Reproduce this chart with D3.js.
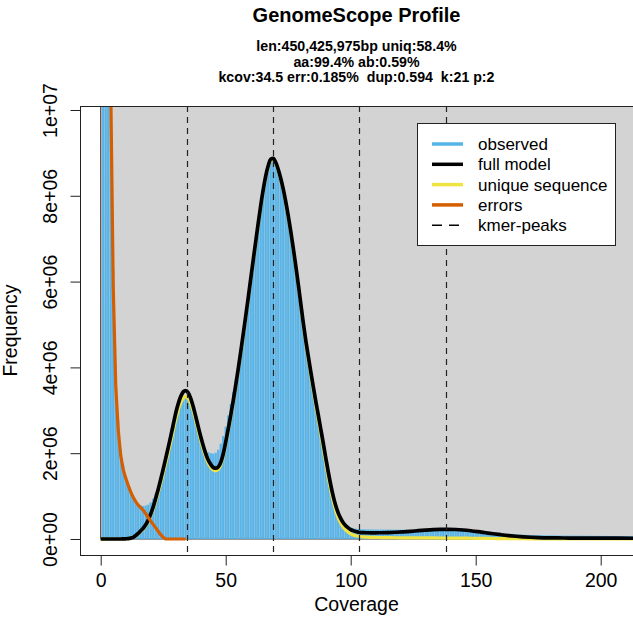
<!DOCTYPE html>
<html>
<head>
<meta charset="utf-8">
<script src="https://d3js.org/d3.v7.min.js"></script>
<style>
  body { margin: 0; background: #fff; }
  text { font-family: "Liberation Sans", Arial, Helvetica, sans-serif; fill: #000; }
</style>
</head>
<body>
<div id="my_dataviz"></div>
<script>

// observed k-mer frequency (millions), coverage 1, 2, 3, ...
var observed = [
  180, 52, 21, 11.2, 6.3, 3.9, 2.75, 2.1, 1.72, 1.46,
  1.27, 1.11, 0.98, 0.88, 0.81, 0.78, 0.77, 0.78, 0.8, 0.85,
  0.94, 1.06, 1.2, 1.38, 1.6, 1.84, 2.08, 2.34, 2.6, 2.84,
  3.04, 3.2, 3.29, 3.31, 3.27, 3.15, 2.98, 2.78, 2.57, 2.37,
  2.2, 2.08, 2.02, 2.0, 1.99, 2.01, 2.08, 2.22, 2.4, 2.62,
  2.88, 3.15, 3.43, 3.72, 4.03, 4.38, 4.76, 5.17, 5.6, 6.04,
  6.48, 6.9, 7.32, 7.72, 8.08, 8.4, 8.64, 8.8, 8.82, 8.74,
  8.6, 8.42, 8.18, 7.9, 7.58, 7.22, 6.82, 6.4, 5.96, 5.5,
  5.06, 4.66, 4.28, 3.92, 3.57, 3.23, 2.9, 2.57, 2.24, 1.92,
  1.61, 1.32, 1.06, 0.84, 0.66, 0.52, 0.42, 0.35, 0.3, 0.27,
  0.25, 0.24, 0.232, 0.228, 0.226, 0.225, 0.224, 0.223, 0.222, 0.222,
  0.221, 0.221, 0.22, 0.22, 0.219, 0.219, 0.218, 0.218, 0.217, 0.217,
  0.216, 0.216, 0.215, 0.215, 0.214, 0.214, 0.213, 0.213, 0.212, 0.212,
  0.211, 0.21, 0.209, 0.208, 0.207, 0.206, 0.205, 0.204, 0.203, 0.202,
  0.2, 0.198, 0.196, 0.194, 0.191, 0.188, 0.185, 0.182, 0.178, 0.174,
  0.17, 0.166, 0.162, 0.158, 0.154, 0.15, 0.146, 0.142, 0.138, 0.134,
  0.13, 0.126, 0.122, 0.118, 0.114, 0.11, 0.107, 0.104, 0.101, 0.098,
  0.096, 0.094, 0.092, 0.09, 0.089, 0.088, 0.087, 0.086, 0.085, 0.084,
  0.083, 0.082, 0.081, 0.08, 0.08, 0.079, 0.079, 0.078, 0.078, 0.077,
  0.077, 0.076, 0.076, 0.075, 0.075, 0.074, 0.074, 0.073, 0.073, 0.072,
  0.072, 0.071, 0.071, 0.07, 0.07, 0.07, 0.069, 0.069, 0.069, 0.068,
  0.068, 0.068, 0.067
];

// coverages where the model curves are given
var modelCov = [
  0, 1, 2, 3, 4, 5, 6, 7, 8, 9,
  10, 11, 12, 13, 14, 15, 16, 17, 18, 19,
  20, 21, 22, 23, 24, 25, 26, 27, 28, 29,
  30, 31, 32, 33, 34, 35, 36, 37, 38, 39,
  40, 41, 42, 43, 44, 45, 46, 47, 48, 49,
  50, 51, 52, 53, 54, 55, 56, 57, 58, 59,
  60, 61, 62, 63, 64, 65, 66, 67, 68, 69,
  70, 71, 72, 73, 74, 75, 76, 77, 78, 79,
  80, 81, 82, 83, 84, 85, 86, 87, 88, 89,
  90, 91, 92, 93, 94, 95, 96, 97, 98, 99,
  100, 101, 102, 103, 104, 105,
  106, 108, 110, 112, 115, 118, 121, 124, 127, 130,
  133, 136, 139, 142, 145, 148, 151, 154, 157, 160,
  163, 166, 169, 172, 175, 180, 185, 190, 200, 213
];

var fullModel = [
  0, 0, 0, 0, 0, 0, 0, 0, 0, 0.002,
  0.005, 0.01, 0.02, 0.04, 0.08, 0.13, 0.19, 0.25, 0.33, 0.44,
  0.58, 0.75, 0.95, 1.16, 1.39, 1.63, 1.88, 2.13, 2.39, 2.66,
  2.93, 3.15, 3.32, 3.43, 3.46, 3.41, 3.28, 3.09, 2.86, 2.62,
  2.39, 2.18, 1.99, 1.84, 1.74, 1.67, 1.65, 1.68, 1.78, 1.98,
  2.26, 2.56, 2.88, 3.22, 3.58, 3.96, 4.36, 4.77, 5.19, 5.62,
  6.06, 6.5, 6.93, 7.36, 7.77, 8.14, 8.46, 8.7, 8.85, 8.87,
  8.78, 8.62, 8.41, 8.16, 7.87, 7.54, 7.18, 6.79, 6.38, 5.95,
  5.5, 5.05, 4.64, 4.27, 3.91, 3.56, 3.22, 2.9, 2.57, 2.24,
  1.9, 1.57, 1.27, 1.0, 0.78, 0.61, 0.48, 0.38, 0.31, 0.26,
  0.22, 0.195, 0.175, 0.16, 0.15, 0.148,
  0.146, 0.145, 0.145, 0.146, 0.15, 0.157, 0.167, 0.179, 0.193, 0.206,
  0.217, 0.224, 0.226, 0.222, 0.21, 0.192, 0.17, 0.146, 0.122, 0.1,
  0.08, 0.064, 0.051, 0.041, 0.034, 0.027, 0.023, 0.021, 0.019, 0.018
];

var uniqueSeq = [
  0, 0, 0, 0, 0, 0, 0, 0, 0, 0.002,
  0.005, 0.01, 0.02, 0.04, 0.07, 0.12, 0.17, 0.23, 0.31, 0.41,
  0.54, 0.7, 0.88, 1.08, 1.3, 1.53, 1.77, 2.01, 2.26, 2.52,
  2.78, 3.0, 3.17, 3.28, 3.32, 3.28, 3.16, 2.98, 2.76, 2.53,
  2.3, 2.09, 1.91, 1.77, 1.67, 1.61, 1.59, 1.62, 1.72, 1.93,
  2.21, 2.51, 2.83, 3.17, 3.53, 3.91, 4.31, 4.72, 5.16, 5.59,
  6.03, 6.47, 6.9, 7.33, 7.74, 8.11, 8.43, 8.67, 8.82, 8.84,
  8.75, 8.59, 8.38, 8.13, 7.84, 7.51, 7.15, 6.76, 6.35, 5.92,
  5.46, 5.0, 4.58, 4.2, 3.83, 3.47, 3.12, 2.79, 2.45, 2.11,
  1.77, 1.44, 1.14, 0.88, 0.66, 0.49, 0.37, 0.28, 0.21, 0.16,
  0.12, 0.095, 0.077, 0.064, 0.055, 0.048,
  0.044, 0.039, 0.036, 0.034, 0.031, 0.029, 0.028, 0.027, 0.026, 0.025,
  0.024, 0.023, 0.022, 0.021, 0.02, 0.018, 0.016, 0.014, 0.012, 0.01,
  0.008, 0.007, 0.006, 0.005, 0.004, 0.003, 0.002, 0.001, 0, 0
];

// error k-mers (millions), coverage 1 .. 34
var errors = [
  180, 52, 20, 10.6, 5.9, 3.6, 2.55, 1.95, 1.62, 1.42,
  1.25, 1.1, 0.97, 0.87, 0.79, 0.73, 0.67, 0.59, 0.5, 0.42,
  0.34, 0.26, 0.18, 0.1, 0.04, 0, 0, 0, 0, 0,
  0, 0, 0, 0
];

var kmerPeaks = [34.5, 69, 103.5, 138];
var xTicks = [0, 50, 100, 150, 200];
var yTicks = [0, 2, 4, 6, 8, 10];
var yTickLabels = ["0e+00", "2e+06", "4e+06", "6e+06", "8e+06", "1e+07"];
var subtitle = ["len:450,425,975bp uniq:58.4%",
                "aa:99.4% ab:0.59%",
                "kcov:34.5 err:0.185%  dup:0.594  k:21 p:2"];
var legendLabels = ["observed", "full model", "unique sequence", "errors", "kmer-peaks"];
var legendColors = ["#56B4E9", "#000000", "#F0E442", "#D55E00", "#000000"];

var W = 633, H = 638;
var box = {left: 80, right: 633, top: 106, bottom: 555};

var svg = d3.select("#my_dataviz")
  .append("svg")
    .attr("width", W)
    .attr("height", H);

var x = d3.scaleLinear()
  .domain([-8.28, 212.92])
  .range([box.left, box.right]);

var y = d3.scaleLinear()
  .domain([-0.373, 10.093])
  .range([box.bottom, box.top]);

svg.append("clipPath").attr("id", "plotclip")
  .append("rect")
    .attr("x", box.left).attr("y", box.top)
    .attr("width", box.right - box.left)
    .attr("height", box.bottom - box.top);

var plot = svg.append("g").attr("clip-path", "url(#plotclip)");

// grey background from (0,0) upward
plot.append("rect")
  .attr("x", x(0))
  .attr("y", y(12))
  .attr("width", x(240) - x(0))
  .attr("height", y(0) - y(12))
  .style("fill", "#d3d3d3")
  .style("stroke", "#333")
  .style("stroke-width", 1);

// observed histogram
plot.append("g")
  .selectAll("rect")
  .data(observed)
  .enter()
  .append("rect")
    .attr("x", function(d, i) { return x(i + 1) - 1.1; })
    .attr("y", function(d) { return y(d); })
    .attr("width", 2.2)
    .attr("height", function(d) { return y(0) - y(d); })
    .style("fill", "#56B4E9");

var line = d3.line()
  .x(function(d) { return x(d[0]); })
  .y(function(d) { return y(d[1]); })
  .curve(d3.curveMonotoneX);

plot.append("path")
  .datum(modelCov.map(function(c, i) { return [c, uniqueSeq[i]]; }))
  .attr("d", line)
  .style("fill", "none")
  .style("stroke", "#F0E442")
  .style("stroke-width", 3.2);

plot.append("path")
  .datum(modelCov.map(function(c, i) { return [c, fullModel[i]]; }))
  .attr("d", line)
  .style("fill", "none")
  .style("stroke", "#000")
  .style("stroke-width", 3.7);

plot.append("path")
  .datum(errors.map(function(v, i) { return [i + 1, v]; }))
  .attr("d", d3.line().x(function(d) { return x(d[0]); }).y(function(d) { return y(d[1]); }))
  .style("fill", "none")
  .style("stroke", "#D55E00")
  .style("stroke-width", 3.2)
  .style("stroke-linejoin", "round");

// kmer peaks
plot.selectAll(".peak")
  .data(kmerPeaks)
  .enter()
  .append("line")
    .attr("class", "peak")
    .attr("x1", function(d) { return Math.round(x(d)) + 0.5; })
    .attr("x2", function(d) { return Math.round(x(d)) + 0.5; })
    .attr("y1", box.top)
    .attr("y2", box.bottom)
    .style("stroke", "#222")
    .style("stroke-width", 1.2)
    .style("stroke-dasharray", "6,5");

// frame
svg.append("rect")
  .attr("x", box.left + 0.5)
  .attr("y", box.top + 0.5)
  .attr("width", box.right - box.left)
  .attr("height", box.bottom - box.top)
  .style("fill", "none")
  .style("stroke", "#222")
  .style("stroke-width", 1);

// x axis
var xAxis = svg.append("g")
  .attr("transform", "translate(0," + (box.bottom + 0.5) + ")")
  .call(d3.axisBottom(x).tickValues(xTicks).tickSize(10).tickPadding(8)
        .tickFormat(function(d) { return d; }));
xAxis.select(".domain").remove();
xAxis.selectAll("line").style("stroke", "#222");
xAxis.selectAll("text")
  .style("font-size", "19.5px")
  .style("font-family", "Liberation Sans, Arial, sans-serif");

// y axis
var yAxis = svg.append("g")
  .attr("transform", "translate(" + (box.left + 0.5) + ",0)")
  .call(d3.axisLeft(y).tickValues(yTicks).tickSize(10)
        .tickFormat(function(d, i) { return yTickLabels[i]; }));
yAxis.select(".domain").remove();
yAxis.selectAll("line").style("stroke", "#222");
yAxis.selectAll("text")
  .attr("x", null).attr("dy", null)
  .attr("transform", "translate(-24,0) rotate(-90)")
  .style("text-anchor", "middle")
  .style("font-size", "19.5px")
  .style("font-family", "Liberation Sans, Arial, sans-serif");

// axis titles
svg.append("text")
  .attr("x", (box.left + box.right) / 2)
  .attr("y", 611)
  .style("text-anchor", "middle")
  .style("font-size", "19.5px")
  .text("Coverage");

svg.append("text")
  .attr("transform", "translate(17," + ((box.top + box.bottom) / 2) + ") rotate(-90)")
  .style("text-anchor", "middle")
  .style("font-size", "19.5px")
  .text("Frequency");

// title
svg.append("text")
  .attr("x", (box.left + box.right) / 2)
  .attr("y", 22)
  .style("text-anchor", "middle")
  .style("font-size", "20px")
  .style("font-weight", "bold")
  .text("GenomeScope Profile");

svg.selectAll(".sub")
  .data(subtitle)
  .enter()
  .append("text")
    .attr("class", "sub")
    .attr("x", (box.left + box.right) / 2)
    .attr("y", function(d, i) { return 51 + i * 15.5; })
    .style("text-anchor", "middle")
    .style("font-size", "14.2px")
    .style("font-weight", "bold")
    .style("white-space", "pre")
    .text(function(d) { return d; });

// legend
var leg = svg.append("g");
leg.append("rect")
  .attr("x", 417.5).attr("y", 123.5)
  .attr("width", 198).attr("height", 122)
  .style("fill", "#fff")
  .style("stroke", "#222");

var rows = leg.selectAll(".row")
  .data(legendLabels)
  .enter()
  .append("g")
    .attr("class", "row")
    .attr("transform", function(d, i) { return "translate(0," + (144 + i * 20.3) + ")"; });

rows.append("line")
  .attr("x1", 432).attr("x2", function(d, i) { return i == 4 ? 459 : 463; })
  .style("stroke", function(d, i) { return legendColors[i]; })
  .style("stroke-width", function(d, i) { return i == 4 ? 1.5 : 3.5; })
  .style("stroke-dasharray", function(d, i) { return i == 4 ? "10,7" : null; });

rows.append("text")
  .attr("x", 478)
  .attr("dy", "0.35em")
  .style("font-size", "17px")
  .text(function(d) { return d; });

</script>
</body>
</html>
